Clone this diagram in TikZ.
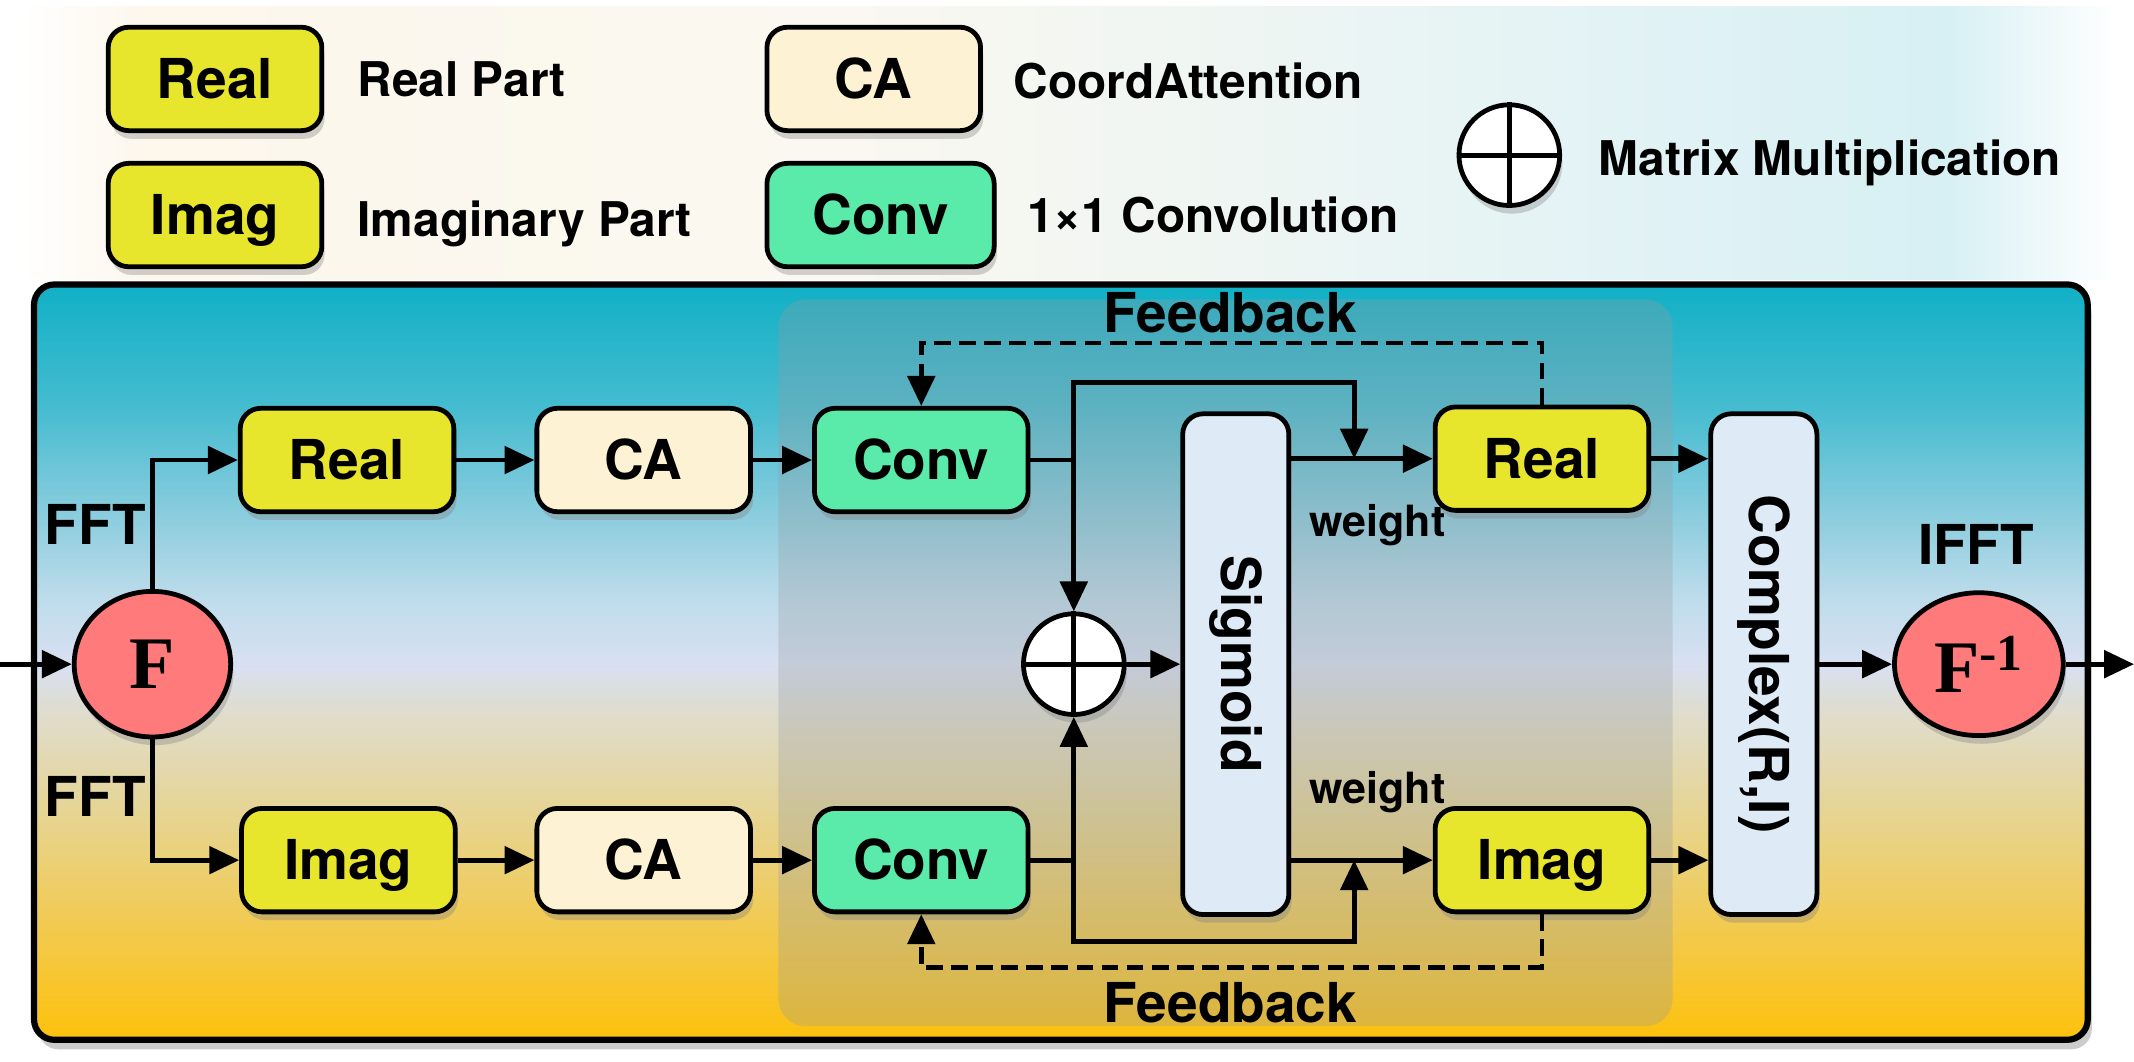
\documentclass[tikz,border=0pt]{standalone}
\usepackage{fontspec}
\setmainfont{TeX Gyre Heros}
\newfontfamily\timesfont{Liberation Serif}
\usetikzlibrary{arrows,arrows.meta,shapes,positioning,calc,shadows,backgrounds}

\definecolor{realcol}{RGB}{232,229,45}
\definecolor{cacol}{RGB}{254,242,212}
\definecolor{convcol}{RGB}{90,234,170}
\definecolor{sigcol}{RGB}{222,234,246}
\definecolor{fcol}{RGB}{255,122,122}
\definecolor{veilcol}{RGB}{150,155,160}
\definecolor{bgA}{RGB}{16,176,198}
\definecolor{bgAA}{RGB}{70,188,208}
\definecolor{bgB}{RGB}{140,205,222}
\definecolor{bgBB}{RGB}{190,220,235}
\definecolor{bgC}{RGB}{216,224,242}
\definecolor{bgD}{RGB}{224,220,200}
\definecolor{bgE}{RGB}{230,212,145}
\definecolor{bgF}{RGB}{242,202,80}
\definecolor{bgG}{RGB}{253,193,12}
\definecolor{lgA}{RGB}{253,247,236}
\definecolor{lgB}{RGB}{250,248,240}
\definecolor{lgC}{RGB}{228,243,245}
\definecolor{lgD}{RGB}{215,240,244}

\pgfdeclareverticalshading{bgshade}{100bp}{color(0bp)=(bgG); color(25bp)=(bgG);
  color(32.6bp)=(bgF); color(39.8bp)=(bgE); color(46.1bp)=(bgD); color(49.9bp)=(bgC);
  color(54.2bp)=(bgBB); color(59.6bp)=(bgB); color(66.8bp)=(bgAA); color(75bp)=(bgA);
  color(100bp)=(bgA)}
\pgfdeclarehorizontalshading{legendshade}{100bp}{color(0bp)=(white); color(25bp)=(white);
  color(28bp)=(lgA); color(45bp)=(lgB); color(62bp)=(lgC); color(71bp)=(lgD);
  color(75bp)=(white); color(100bp)=(white)}

\begin{document}
\begin{tikzpicture}[->,>={Triangle[length=4.4mm,width=4mm]},line width=2pt,
x=0.02cm,y=-0.02cm,node distance=4.2cm]
\tikzstyle{boxbase}=[rectangle,rounded corners=0.3cm,draw,line width=2pt,
font=\fontsize{23}{27}\selectfont\bfseries,inner sep=2pt,
drop shadow={opacity=0.35,shadow xshift=0.4mm,shadow yshift=-1.2mm}]
\tikzstyle{blockbox}=[boxbase,minimum width=3.14cm,minimum height=1.52cm,
text height=16.5pt,text depth=0pt]
\tikzstyle{realbox}=[blockbox,fill=realcol]
\tikzstyle{cabox}=[blockbox,fill=cacol]
\tikzstyle{convbox}=[blockbox,fill=convcol]
\tikzstyle{tallbox}=[boxbase,fill=sigcol,minimum width=1.56cm,minimum height=7.36cm]
\tikzstyle{fourier}=[ellipse,draw,line width=2pt,fill=fcol,inner sep=0pt,
minimum width=2.3cm,minimum height=2.14cm,
font=\timesfont\bfseries\fontsize{31}{33}\selectfont,
drop shadow={opacity=0.35,shadow xshift=0.4mm,shadow yshift=-1.2mm}]
\tikzstyle{mulnode}=[circle,draw,line width=2pt,fill=white,minimum size=1.48cm,
inner sep=0pt,drop shadow={opacity=0.35,shadow xshift=0.4mm,shadow yshift=-1.2mm}]
\tikzstyle{lbl}=[font=\fontsize{23}{27}\selectfont\bfseries]
\tikzstyle{wlbl}=[font=\fontsize{18}{21}\selectfont\bfseries]
\tikzstyle{legendtext}=[font=\fontsize{20}{24}\selectfont\bfseries,anchor=base west,inner sep=0pt]
\tikzstyle{fb}=[dash pattern=on 7pt off 3.5pt]

\useasboundingbox (0,0) rectangle (1568,779.6);

%backgrounds
\shade[shading=legendshade] (15,5) rectangle (1555,205);
\shadedraw[shading=bgshade,rounded corners=0.3cm,line width=2.6pt,
drop shadow={opacity=0.4,shadow xshift=0.6mm,shadow yshift=-1.4mm}] (25,209) rectangle (1534,764);
\fill[veilcol,fill opacity=0.3,rounded corners=0.4cm] (572,220) rectangle (1229,754);

%legend
\node[realbox] (LReal) at (158,58) {Real};
\node[legendtext] (LRealT) at (261,71) {Real Part};
\node[realbox] (LImag) at (158,158) {Imag};
\node[legendtext] (LImagT) at (261,174) {Imaginary Part};
\node[cabox] (LCA) at (642,58) {CA};
\node[legendtext] (LCAT) at (743,72) {CoordAttention};
\node[convbox,minimum width=3.34cm] (LConv) at (647,158) {Conv};
\node[legendtext] (LConvT) at (753,171) {1×1 Convolution};
\node[mulnode] (LMul) at (1109,114) {};
\draw[-] (LMul.north) -- (LMul.south) (LMul.west) -- (LMul.east);
\node[legendtext] (LMulT) at (1173,129) {Matrix Multiplication};

%blocks
\node[fourier] (F) at (112,488) {F};
\node[realbox] (RealA) at (255,338) {Real};
\node[cabox] (CAa) [right of=RealA, node distance=4.36cm] {CA};
\node[convbox] (ConvA) [right of=CAa, node distance=4.08cm] {Conv};
\node[realbox] (ImagA) at (256,632) {Imag};
\node[cabox] (CAb) [right of=ImagA, node distance=4.34cm] {CA};
\node[convbox] (ConvB) [right of=CAb, node distance=4.08cm] {Conv};
\node[mulnode] (Plus) at (789,488) {};
\node[tallbox] (Sig) at (908,488) {\rotatebox{-90}{Sigmoid}};
\node[realbox] (RealB) at (1133,337) {Real};
\node[realbox] (ImagB) at (1133,632) {Imag};
\node[tallbox] (Cplx) at (1296,488) {\rotatebox{-90}{Complex(R,I)}};
\node[fourier,minimum width=2.48cm,minimum height=2.1cm] (Finv) at (1454,488) {F\textsuperscript{-1}};

%labels
\node[lbl] (fftA) at (70,385) {FFT};
\node[lbl] (fftB) at (70,585) {FFT};
\node[lbl] (ifft) at (1452,400) {IFFT};
\node[lbl] (fbTop) at (904,230) {Feedback};
\node[lbl] (fbBot) at (904,737) {Feedback};
\node[wlbl] (wA) at (1012,386) {weight};
\node[wlbl] (wB) at (1012,582) {weight};

\coordinate (in) at (0,488);
\coordinate (out) at (1568,488);
\coordinate (mulU) at (995,281);
\coordinate (mulD) at (995,692);
\coordinate (fbU) at (904,252);
\coordinate (fbD) at (904,711);

%forward path
\draw (in) -- (F.west);
\draw (F.north) |- (RealA.west);
\draw (F.south) |- (ImagA.west);
\draw (RealA) -- (CAa);
\draw (CAa) -- (ConvA);
\draw (ImagA) -- (CAb);
\draw (CAb) -- (ConvB);
\draw[-] (ConvA.east) -- (ConvA.east -| Plus);
\draw[-] (ConvB.east) -- (ConvB.east -| Plus);
\draw[<->] (Plus.north) |- (mulU) -- (mulU |- RealB);
\draw[<->] (Plus.south) |- (mulD) -- (mulD |- ImagB);
\draw (Plus) -- (Sig);
\draw[-] (Plus.north) -- (Plus.south) (Plus.west) -- (Plus.east);
\draw (Sig.east |- RealB) -- (RealB.west);
\draw (Sig.east |- ImagB) -- (ImagB.west);
\draw (RealB.east) -- (RealB.east -| Cplx.west);
\draw (ImagB.east) -- (ImagB.east -| Cplx.west);
\draw (Cplx) -- (Finv);
\draw (Finv.east) -- (out);

%feedback
\draw[fb] (RealB.north) |- (fbU) -| (ConvA.north);
\draw[fb] (ImagB.south) |- (fbD) -| (ConvB.south);

\end{tikzpicture}
\end{document}
